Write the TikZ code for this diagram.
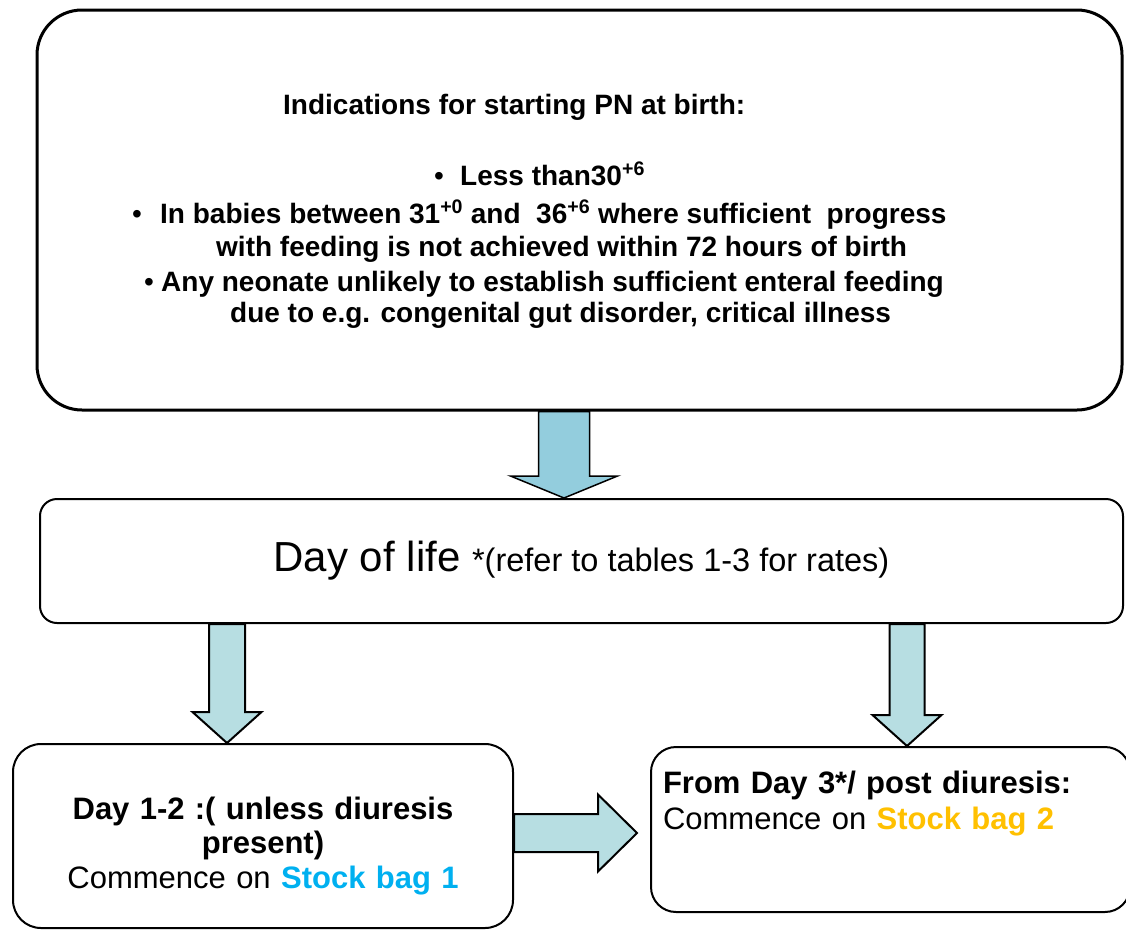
\documentclass[tikz,border=0pt]{standalone}
\usepackage{fontspec}
\setmainfont{Liberation Sans}
\usepackage{tikz}
\usetikzlibrary{calc}

\definecolor{arrowblue}{HTML}{93CDDD}
\definecolor{arrowpale}{HTML}{B7DEE2}
\definecolor{bagone}{HTML}{00B0F0}
\definecolor{bagtwo}{HTML}{FFC000}

% block arrow: style, from, tip, half shaft, half head, head length
\newcommand{\fatarrow}[6]{%
  \coordinate (hb) at ($(#3)!#6!(#2)$);
  \draw[#1] ($(#2)!#4!90:(#3)$) -- ($(hb)!#4!90:(#3)$) -- ($(hb)!#5!90:(#3)$) -- (#3)
    -- ($(hb)!#5!-90:(#3)$) -- ($(hb)!#4!-90:(#3)$) -- ($(#2)!#4!-90:(#3)$) -- cycle;}

\begin{document}
\begin{tikzpicture}[x=1pt, y=-1pt,
    box/.style={draw, line width=2pt, rounded corners=#1},
    txt/.style={inner sep=0pt, anchor=base west, font=\fontsize{28}{33}\selectfont\bfseries},
    fat/.style={draw, line width=2pt, fill=arrowpale, line join=miter}]
\useasboundingbox (0,0) rectangle (1126,929);

\node[box=45pt, line width=3pt, minimum width=1085pt, minimum height=400pt] (indic) at (579.5,210) {};
\node[txt] (head) at (283,114) {Indications for starting PN at birth:};
\node[txt] (less) at (434,185) {\makebox[26pt][l]{\mdseries\textbullet}Less than30\textsuperscript{+6}};
\node[txt] (between) at (132,223) {\makebox[28pt][l]{\mdseries\textbullet}In babies between 31\textsuperscript{+0} and\ \ 36\textsuperscript{+6} where sufficient\ \ progress};
\node[txt] (between2) at (216,256) {with feeding is not achieved within 72 hours of birth};
\node[txt] (any) at (144,291) {\makebox[17pt][l]{\mdseries\textbullet}Any neonate unlikely to establish sufficient enteral feeding};
\node[txt] (any2) at (230,322) {due to e.g. congenital gut disorder, critical illness};

\node[box=17pt, minimum width=1083pt, minimum height=124pt] (dol) at (581.5,561)
  {\fontsize{42}{48}\selectfont Day of life {\fontsize{32.5}{36}\selectfont *(refer to tables 1-3 for rates)}};

\node[box=28pt, minimum width=500pt, minimum height=184pt, text width=480pt, align=center,
  inner xsep=10pt, inner ysep=0pt, text height=75pt, text depth=109pt,
  font=\fontsize{31}{34.5}\selectfont] (day12) at (263,836)
  {{\bfseries Day 1-2 :( unless diuresis}\\ {\bfseries present)}\\ Commence on \textcolor{bagone}{\bfseries Stock bag 1}};

\node[box=25pt, minimum width=479pt, minimum height=165pt, text width=455pt, align=left,
  inner xsep=12pt, inner ysep=0pt, text height=46pt, text depth=119pt,
  font=\fontsize{31}{36}\selectfont] (stock2) at (890.5,829.5)
  {{\bfseries From Day 3*/ post diuresis:}\\ Commence on \textcolor{bagtwo}{\bfseries Stock bag 2}};

\path (564,0) coordinate (c1) (227,0) coordinate (c2) (907,0) coordinate (c3) (637,833) coordinate (htip);
\fatarrow{fat, line width=1.5pt, fill=arrowblue}{c1 |- indic.south}{c1 |- dol.north}{25.5pt}{53.5pt}{22pt}
\fatarrow{fat}{c2 |- dol.south}{c2 |- day12.north}{18pt}{34.5pt}{31pt}
\fatarrow{fat}{c3 |- dol.south}{c3 |- stock2.north}{17.5pt}{34.5pt}{31pt}
\fatarrow{fat}{day12.east |- htip}{htip}{19pt}{38.5pt}{39pt}
\end{tikzpicture}
\end{document}
